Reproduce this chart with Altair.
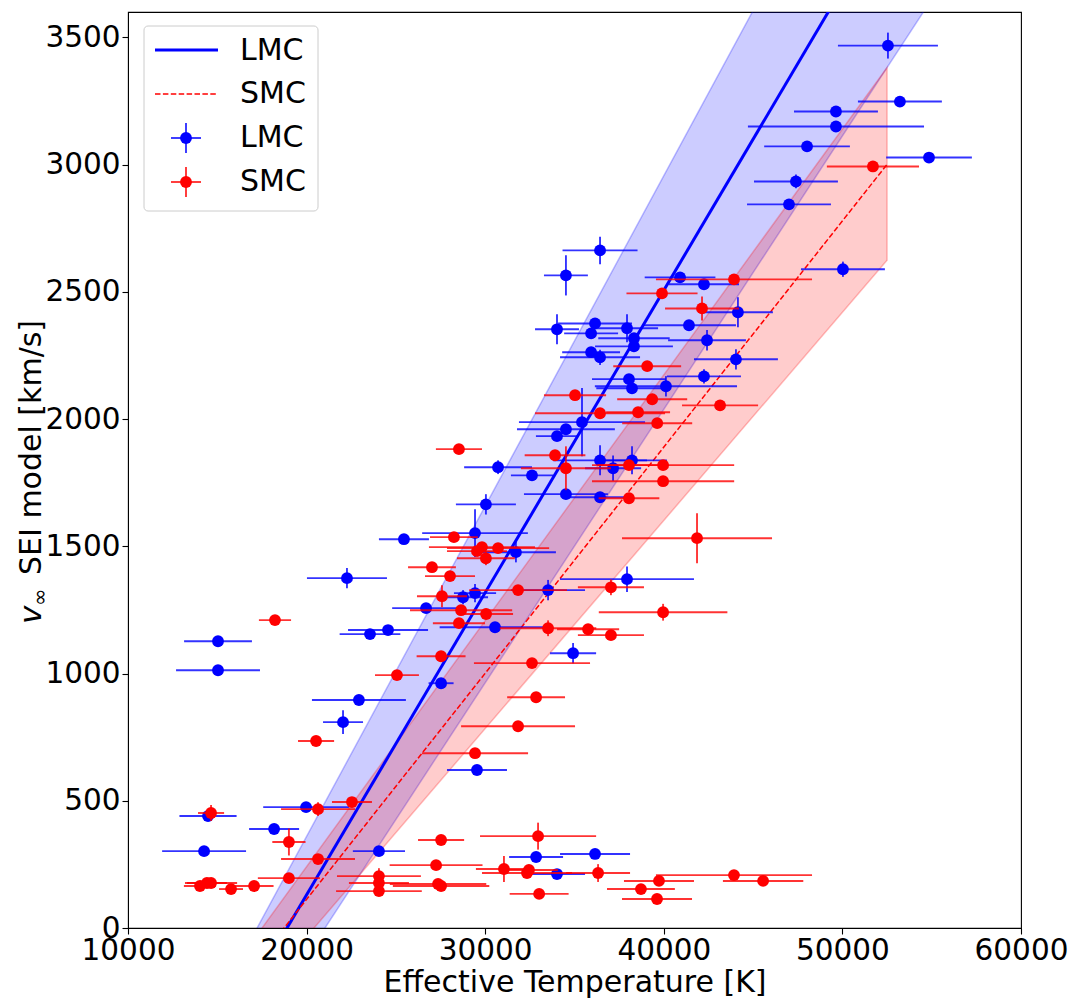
import altair as alt
import pandas as pd

# ---------------- LMC measurements (T_eff [K], v_inf [km/s], errors) ----------------
lmc_T = [52550, 49640, 53220, 49640, 48020, 54850, 47400, 47010, 50030, 36430,
         34520, 40910, 42250, 44150, 36150, 34020, 37940, 41410, 35930, 38330,
         38330, 42420, 35930, 36430, 44040, 42250, 38050, 38220, 40120, 35420,
         34520, 34020, 30720, 32620, 36430, 38220, 37160, 34520, 36430, 30040,
         29430, 25450, 31720, 22260, 15040, 15040, 26690, 28760, 29430, 33520,
         30550, 37940, 34920, 24560, 23550, 22930, 22040, 19970, 14480, 18180,
         14260, 24050, 27530, 29540, 32850, 36150, 34020]
lmc_v = [3468, 3209, 3248, 3150, 3072, 3028, 2934, 2844, 2589, 2663,
         2565, 2557, 2530, 2420, 2376, 2353, 2357, 2369, 2337, 2318,
         2286, 2310, 2263, 2243, 2235, 2168, 2157, 2121, 2129, 1988,
         1960, 1933, 1811, 1779, 1838, 1838, 1807, 1705, 1693, 1665,
         1552, 1528, 1477, 1375, 1127, 1013, 1257, 1300, 1316, 1328,
         1182, 1371, 1080, 1171, 1155, 896, 809, 475, 440, 389,
         302, 302, 962, 621, 279, 291, 212]
lmc_Terr = [2800, 2350, 2350, 4930, 2400, 2400, 2350, 2350, 2350, 2100,
            1230, 1980, 1960, 1960, 2070, 1230, 1740, 2630, 1510, 2000,
            2180, 2180, 1620, 2240, 2350, 2070, 2070, 2000, 3980, 3530,
            2740, 1180, 1900, 1180, 2630, 1960, 1570, 2350, 1740, 1680,
            2960, 1400, 2240, 2240, 1900, 2350, 1900, 1400, 1180, 2070,
            3100, 3750, 1290, 2240, 1700, 2630, 1120, 2400, 1600, 1400,
            2350, 1460, 700, 1680, 1510, 1960, 1570]
lmc_verr = [51, 10, 10, 10, 10, 15, 27, 20, 30, 54,
            79, 15, 20, 59, 15, 59, 55, 20, 15, 15,
            20, 40, 10, 30, 40, 28, 15, 15, 40, 134,
            15, 15, 27, 10, 59, 55, 50, 20, 20, 40,
            94, 10, 40, 40, 10, 10, 10, 28, 36, 40,
            10, 50, 40, 15, 10, 10, 47, 10, 15, 10,
            10, 10, 10, 10, 10, 15, 10]

# ---------------- SMC measurements ----------------
smc_T = [51710, 43930, 39900, 42140, 39070, 35030, 39350, 43150, 36430, 38560,
         39630, 33910, 34520, 39960, 38050, 39960, 38050, 28530, 28250, 41860,
         29540, 29820, 30720, 30040, 27020, 28030, 27580, 31840, 37040, 28650,
         30050, 28530, 33520, 35760, 37040, 39960, 27530, 32620, 25060, 32850,
         31840, 20530, 29430, 22540, 20640, 14650, 19010, 18230, 20640, 19010,
         17060, 15770, 14650, 14420, 14030, 27530, 32960, 27250, 24050, 24050,
         24050, 27360, 27530, 31050, 32450, 32340, 36320, 39730, 38720, 39620,
         33020, 43930, 45560]
smc_v = [2993, 2549, 2494, 2435, 2208, 2094, 2078, 2054, 2023, 2027,
         1984, 1858, 1807, 1819, 1819, 1756, 1689, 1882, 1536, 1532,
         1481, 1497, 1493, 1453, 1418, 1383, 1304, 1328, 1339, 1249,
         1234, 1198, 1178, 1174, 1151, 1241, 1068, 1041, 994, 907,
         793, 735, 687, 495, 467, 452, 338, 1210, 271, 196,
         165, 153, 177, 177, 165, 346, 361, 247, 204, 177,
         145, 173, 165, 232, 228, 216, 216, 185, 153, 114,
         134, 208, 185]
smc_Terr = [2580, 4370, 1990, 2070, 1900, 1740, 1960, 2130, 3640, 1790,
            1960, 1700, 2520, 3980, 1740, 3980, 1700, 1290, 1340, 4200,
            1680, 2970, 2860, 1620, 1340, 1400, 1400, 2740, 1850, 2860,
            1510, 1460, 2700, 1740, 1850, 3600, 1370, 3250, 1230, 1620,
            3190, 1010, 2970, 1120, 2070, 730, 930, 900, 2070, 1740,
            1090, 670, 1460, 1120, 900, 1290, 3250, 2600, 2350, 1680,
            2400, 2700, 2700, 1570, 1620, 2520, 1790, 1960, 1900, 1960,
            1650, 4370, 2250]
smc_verr = [10, 10, 10, 47, 10, 10, 10, 10, 10, 10,
            10, 10, 86, 10, 10, 10, 10, 10, 10, 98,
            10, 10, 10, 27, 10, 10, 43, 10, 31, 10,
            10, 10, 31, 10, 10, 33, 10, 10, 10, 10,
            10, 10, 10, 10, 27, 31, 53, 10, 10, 10,
            10, 10, 10, 10, 10, 10, 53, 10, 31, 10,
            10, 10, 10, 51, 10, 10, 35, 10, 10, 10,
            10, 10, 10]

# ---------------- model relations and their bands (end points) ----
lmc_fit_T = [17000, 55000]
lmc_fit_v = [-226, 4288]
smc_fit_T = [15000, 52500]
smc_fit_v = [-332, 3001]

lmc_band_T = [15000, 55000]
lmc_band_lo = [-648, 3650]
lmc_band_hi = [-289, 4904]
smc_band_T = [15000, 52500]
smc_band_lo = [-443, 2624]
smc_band_hi = [-242, 3382]

x_ticks = [10000, 20000, 30000, 40000, 50000, 60000]
y_ticks = [0, 500, 1000, 1500, 2000, 2500, 3000, 3500]

assert len(lmc_T) == len(lmc_v) == len(lmc_Terr) == len(lmc_verr)
assert len(smc_T) == len(smc_v) == len(smc_Terr) == len(smc_verr)


def points(T, v, Te, ve):
    df = pd.DataFrame({"T": T, "v": v, "Te": Te, "ve": ve})
    df["T0"] = df["T"] - df["Te"]
    df["T1"] = df["T"] + df["Te"]
    df["v0"] = df["v"] - df["ve"]
    df["v1"] = df["v"] + df["ve"]
    return df


lmc = points(lmc_T, lmc_v, lmc_Terr, lmc_verr)
smc = points(smc_T, smc_v, smc_Terr, smc_verr)
lmc_fit = pd.DataFrame({"T": lmc_fit_T, "v": lmc_fit_v})
smc_fit = pd.DataFrame({"T": smc_fit_T, "v": smc_fit_v})
lmc_band = pd.DataFrame({"T": lmc_band_T, "lo": lmc_band_lo, "hi": lmc_band_hi})
smc_band = pd.DataFrame({"T": smc_band_T, "lo": smc_band_lo, "hi": smc_band_hi})
one = pd.DataFrame({"a": [0]})

FONT = "DejaVu Sans"
MSIZE = 140
xs = alt.Scale(domain=[10000, 60000], nice=False, zero=False)
ys = alt.Scale(domain=[0, 3600], nice=False, zero=False)
x_axis = alt.Axis(values=x_ticks, format="d", title="Effective Temperature [K]",
                  labelFlush=False, labelOverlap=False)
y_axis = alt.Axis(values=y_ticks, format="d", title=None,
                  labelFlush=False, labelOverlap=False)


def X(f):
    return alt.X(f, type="quantitative", scale=xs, axis=x_axis)


def Y(f):
    return alt.Y(f, type="quantitative", scale=ys, axis=y_axis)


def band(df, col):
    return alt.Chart(df).mark_area(fill=col, fillOpacity=0.2, stroke=col,
                                   strokeOpacity=0.25, strokeWidth=1.5, clip=True
                                   ).encode(x=X("T"), y=Y("lo"), y2=alt.Y2("hi"))


def errbars(df, col):
    h = alt.Chart(df).mark_rule(color=col, opacity=0.8, strokeWidth=1.9).encode(
        x=X("T0"), x2=alt.X2("T1"), y=Y("v"))
    v = alt.Chart(df).mark_rule(color=col, opacity=0.8, strokeWidth=1.9).encode(
        x=X("T"), y=Y("v0"), y2=alt.Y2("v1"))
    p = alt.Chart(df).mark_circle(color=col, opacity=1, size=MSIZE).encode(
        x=X("T"), y=Y("v"))
    return [h, v, p]


layers = [
    band(lmc_band, "blue"),
    band(smc_band, "red"),
    alt.Chart(lmc_fit).mark_line(color="blue", strokeWidth=3, clip=True).encode(
        x=X("T"), y=Y("v")),
    alt.Chart(smc_fit).mark_line(color="red", strokeWidth=1.5, strokeDash=[5.5, 2.4],
                                 clip=True).encode(x=X("T"), y=Y("v")),
]
layers += errbars(lmc, "blue")
layers += errbars(smc, "red")

# ---------------- legend ----------------
leg = [
    alt.Chart(one).mark_rect(fill="white", fillOpacity=0.8, stroke="#cccccc",
                             strokeWidth=1, cornerRadius=4).encode(
        x=alt.value(16), x2=alt.value(190), y=alt.value(14), y2=alt.value(199)),
    alt.Chart(one).mark_rule(color="blue", strokeWidth=3).encode(
        x=alt.value(27), x2=alt.value(90), y=alt.value(38)),
    alt.Chart(one).mark_rule(color="red", strokeWidth=1.5, strokeDash=[5.5, 2.4]).encode(
        x=alt.value(27), x2=alt.value(90), y=alt.value(82)),
]
for col, yy in (("blue", 126), ("red", 170)):
    leg += [
        alt.Chart(one).mark_rule(color=col, opacity=0.8, strokeWidth=1.9).encode(
            x=alt.value(43), x2=alt.value(73), y=alt.value(yy)),
        alt.Chart(one).mark_rule(color=col, opacity=0.8, strokeWidth=1.9).encode(
            x=alt.value(58), y=alt.value(yy - 15), y2=alt.value(yy + 15)),
        alt.Chart(one).mark_circle(color=col, opacity=1, size=MSIZE).encode(
            x=alt.value(58), y=alt.value(yy)),
    ]
for txt, yy in (("LMC", 39), ("SMC", 82), ("LMC", 126), ("SMC", 170)):
    leg.append(alt.Chart(one).mark_text(text=txt, font=FONT, fontSize=30, align="left",
                                        baseline="middle", color="black").encode(
        x=alt.value(112), y=alt.value(yy)))

# ---------------- y axis title: v_inf SEI model [km/s] ----------------
ytitle = [
    alt.Chart(one).mark_text(text="v", font=FONT, fontSize=31, fontStyle="italic",
                             angle=270, align="left", baseline="alphabetic",
                             color="black").encode(x=alt.value(-87), y=alt.value(612)),
    alt.Chart(one).mark_text(text="∞", font=FONT, fontSize=21, angle=270, align="left",
                             baseline="alphabetic", color="black").encode(
        x=alt.value(-81), y=alt.value(594)),
    alt.Chart(one).mark_text(text="SEI model [km/s]", font=FONT, fontSize=30, angle=270,
                             align="left", baseline="alphabetic", color="black").encode(
        x=alt.value(-87), y=alt.value(563)),
]

chart = alt.layer(*(layers + leg + ytitle)).properties(
    width=893, height=916,
    padding={"left": 120, "top": 4, "right": 51, "bottom": 72},
    autosize=alt.AutoSizeParams(type="none"),
).configure_view(stroke="black", strokeWidth=1.1).configure_axis(
    labelFont=FONT, labelFontSize=29.5, labelColor="black", titleFont=FONT,
    titleFontSize=30, titleFontWeight="normal", titleColor="black",
    domainColor="black", tickColor="black", tickSize=6, tickWidth=1.1,
    labelPadding=2, titlePadding=3, grid=False,
)

chart.save("out.html", embed_options={"renderer": "svg", "actions": False})
